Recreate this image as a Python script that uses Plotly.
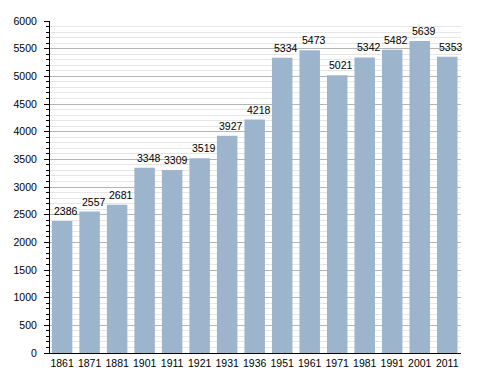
import plotly.graph_objects as go

years = ["1861", "1871", "1881", "1901", "1911", "1921", "1931", "1936",
         "1951", "1961", "1971", "1981", "1991", "2001", "2011"]
population = [2386, 2557, 2681, 3348, 3309, 3519, 3927, 4218,
              5334, 5473, 5021, 5342, 5482, 5639, 5353]

FONT = "Liberation Sans, Arial, sans-serif"

fig = go.Figure(go.Bar(
    x=years, y=population,
    marker=dict(color="#9db4cd", line=dict(width=0)),
    hoverinfo="x+y",
))

for i, v in enumerate(population):
    fig.add_annotation(
        x=i, y=v, xref="x", yref="y", text=str(v), showarrow=False,
        xanchor="center", yanchor="bottom", xshift=4, yshift=2,
        font=dict(size=10.5, color="black", family=FONT),
    )

fig.update_layout(
    width=488, height=373,
    margin=dict(l=50, r=27, t=21, b=20, autoexpand=False),
    paper_bgcolor="white", plot_bgcolor="white",
    bargap=0.255,
    showlegend=False,
    font=dict(family=FONT, size=10.5, color="black"),
)
fig.update_xaxes(
    type="category", automargin=False,
    range=[-0.44, 14.5],
    showline=True, linecolor="black", linewidth=1,
    ticks="", showgrid=False,
    tickfont=dict(size=10.5, color="black"),
)
fig.update_yaxes(
    range=[0, 6000], dtick=500, tick0=0, automargin=False,
    showline=True, linecolor="black", linewidth=1,
    ticks="outside", ticklen=5, tickcolor="black",
    ticklabelstandoff=5,
    showgrid=True, gridcolor="#b4b4b4", gridwidth=1,
    zeroline=False,
    tickfont=dict(size=10.5, color="black"),
    minor=dict(dtick=100, showgrid=True, gridcolor="#e6e6e6",
               ticks="outside", ticklen=3, tickcolor="black"),
)

fig.write_html("out.html", config={"displayModeBar": False},
               post_script="document.body.style.margin='0';document.body.style.overflow='hidden';")
